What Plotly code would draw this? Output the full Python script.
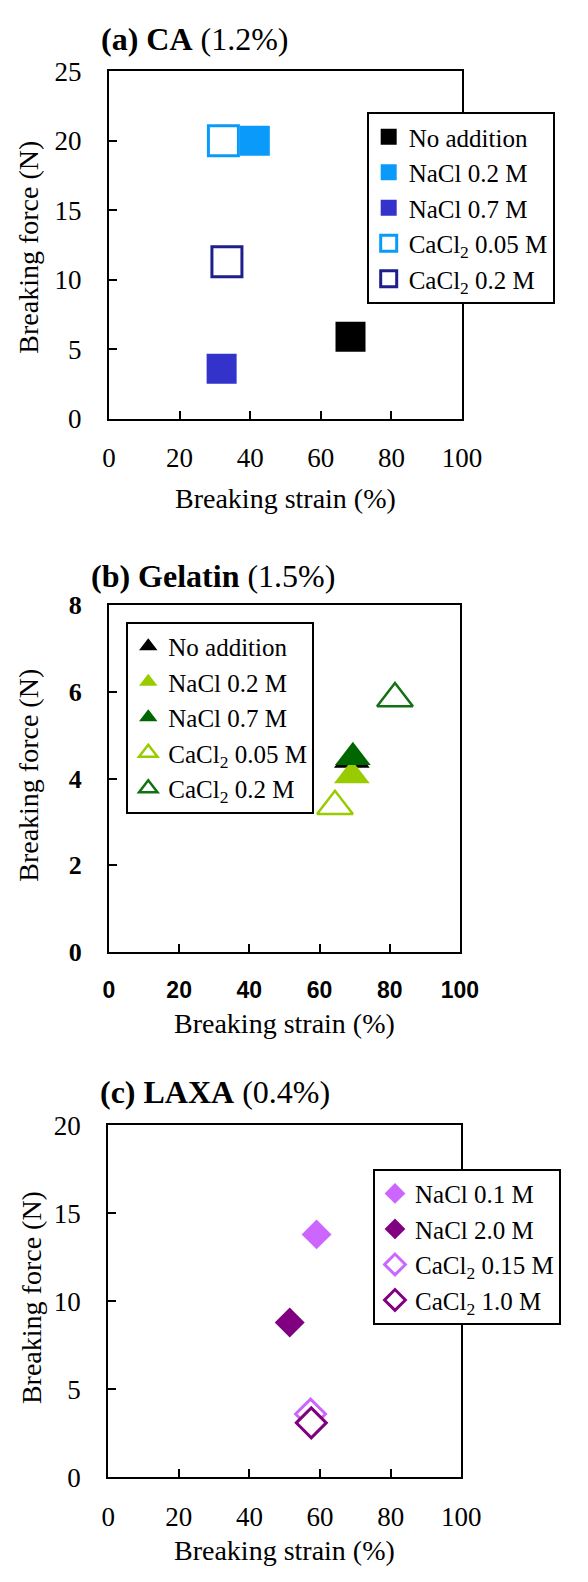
import plotly.graph_objects as go

W, H = 588, 1582

# ---------------- data ----------------
a_labels = ["No addition", "NaCl 0.2 M", "NaCl 0.7 M", "CaCl<sub>2</sub> 0.05 M", "CaCl<sub>2</sub> 0.2 M"]
a_strain = [68.4, 41.3, 31.9, 32.4, 33.4]
a_force = [5.9, 20.0, 3.6, 20.0, 11.3]

b_labels = ["No addition", "NaCl 0.2 M", "NaCl 0.7 M", "CaCl<sub>2</sub> 0.05 M", "CaCl<sub>2</sub> 0.2 M"]
b_strain = [69.2, 69.2, 69.5, 64.4, 81.5]
b_force = [4.43, 4.07, 4.49, 3.36, 5.85]

c_labels = ["NaCl 0.1 M", "NaCl 2.0 M", "CaCl<sub>2</sub> 0.15 M", "CaCl<sub>2</sub> 1.0 M"]
c_strain = [59.0, 51.4, 57.3, 57.5]
c_force = [13.8, 8.8, 3.6, 3.1]

x_ticks = [0, 20, 40, 60, 80, 100]
a_yticks = [0, 5, 10, 15, 20, 25]
b_yticks = [0, 2, 4, 6, 8]
c_yticks = [0, 5, 10, 15, 20]

# ---------------- styles ----------------
SERIF = "Liberation Serif, Times New Roman, serif"
SANS = "Liberation Sans, Arial, sans-serif"

a_colors = ["#000000", "#0A9BFA", "#3333CC", "#0A9BFA", "#1E1E8C"]
a_open = [False, False, False, True, True]
b_colors = ["#000000", "#99CC00", "#006600", "#99CC00", "#127212"]
b_open = [False, False, False, True, True]
c_colors = ["#CC66FF", "#800080", "#CC66FF", "#800080"]
c_open = [False, False, True, True]


def px_x(px):
    return px / W


def px_y(py):
    return 1 - py / H


fig = go.Figure()


def add_panel(labels, xs, ys, colors, opens, symbol, size, lw, xref, yref, legend):
    for lab, xv, yv, col, op in zip(labels, xs, ys, colors, opens):
        fig.add_trace(go.Scatter(
            x=[xv], y=[yv], mode="markers", name=lab,
            xaxis=xref, yaxis=yref, legend=legend,
            marker=dict(symbol=symbol, size=size,
                        color="white" if op else col,
                        line=dict(color=col, width=lw if op else 0)),
            hoverinfo="skip",
        ))


add_panel(a_labels, a_strain, a_force, a_colors, a_open, "square", 30, 3, "x", "y", "legend")
add_panel(b_labels, b_strain, b_force, b_colors, b_open, "triangle-up", 31, 2.5, "x2", "y2", "legend2")
add_panel(c_labels, c_strain, c_force, c_colors, c_open, "diamond", 23, 3, "x3", "y3", "legend3")

panels = {
    "a": dict(left=106.9, right=477.0, top=57.3, bottom=411.7),
    "b": dict(left=106.9, right=474.7, top=601.7, bottom=955.0),
    "c": dict(left=106.1, right=476.2, top=1131.7, bottom=1490.7),
}

axis_common = dict(showline=True, mirror=True, linecolor="black", linewidth=2,
                   ticks="inside", ticklen=8, tickwidth=2, tickcolor="black",
                   showgrid=False, zeroline=False, fixedrange=True)

tick_font = dict(family=SERIF, size=27, color="black")
b_xtick_font = dict(family=SANS, size=23, color="black", weight="bold")
b_ytick_font = dict(family=SERIF, size=26, color="black", weight="bold")

layout = dict(
    width=W, height=H, margin=dict(l=0, r=0, t=0, b=0),
    paper_bgcolor="white", plot_bgcolor="white",
    font=dict(family=SERIF, color="black"),
)

names = [("a", "xaxis", "yaxis", "y", "x", a_yticks, [0, 25], 14),
         ("b", "xaxis2", "yaxis2", "y2", "x2", b_yticks, [0, 8], 17),
         ("c", "xaxis3", "yaxis3", "y3", "x3", c_yticks, [0, 20], 14)]

for key, xa, ya, yanchor, xanchor, yt, yr, xstand in names:
    p = panels[key]
    xf = b_xtick_font if key == "b" else tick_font
    yf = b_ytick_font if key == "b" else tick_font
    layout[xa] = dict(axis_common, domain=[px_x(p["left"]), px_x(p["right"])], anchor=yanchor,
                      range=[0, 100], tickvals=x_ticks, tickfont=xf, ticklabelstandoff=xstand)
    layout[ya] = dict(axis_common, domain=[px_y(p["bottom"]), px_y(p["top"])], anchor=xanchor,
                      range=yr, tickvals=yt, tickfont=yf, ticklabelstandoff=20)

leg_common = dict(bgcolor="white", bordercolor="black", borderwidth=2,
                  font=dict(family=SERIF, size=25, color="black"),
                  xanchor="left", yanchor="top", tracegroupgap=0)
layout["legend"] = dict(leg_common, x=px_x(377), y=px_y(99))
layout["legend2"] = dict(leg_common, x=px_x(125), y=px_y(618.3))
layout["legend3"] = dict(leg_common, x=px_x(383.6), y=px_y(1176))

fig.update_layout(**layout)

ann = []
titles = [("<b>(a) CA</b> (1.2%)", 96, 24),
          ("<b>(b) Gelatin</b> (1.5%)", 86, 571.7),
          ("<b>(c) LAXA</b> (0.4%)", 95, 1098)]
for t, x0, y0 in titles:
    ann.append(dict(text=t, x=px_x(x0), y=px_y(y0), xref="paper", yref="paper",
                    xanchor="left", yanchor="middle", showarrow=False,
                    font=dict(family=SERIF, size=32, color="black")))

xtitles = [(292, 493), (291, 1028), (291, 1565)]
for x0, y0 in xtitles:
    ann.append(dict(text="Breaking strain (%)", x=px_x(x0), y=px_y(y0), xref="paper", yref="paper",
                    xanchor="center", yanchor="middle", showarrow=False,
                    font=dict(family=SERIF, size=28, color="black")))

ytitles = [(22.5, 236.7), (22.5, 775), (25, 1307)]
for x0, y0 in ytitles:
    ann.append(dict(text="Breaking force (N)", x=px_x(x0), y=px_y(y0), xref="paper", yref="paper",
                    xanchor="center", yanchor="middle", showarrow=False, textangle=-90,
                    font=dict(family=SERIF, size=28, color="black")))

fig.update_layout(annotations=ann)

fig.write_html("out.html",
               post_script="document.body.style.margin='0px';document.body.style.overflow='hidden';")
